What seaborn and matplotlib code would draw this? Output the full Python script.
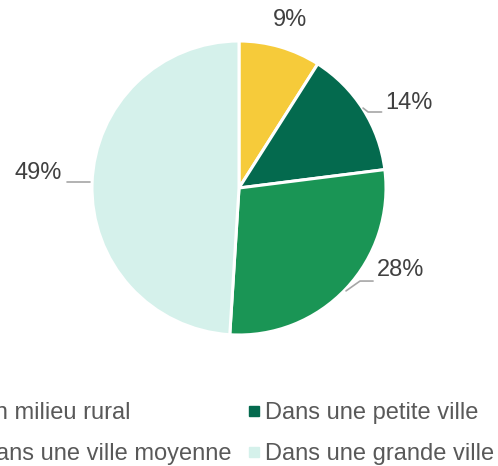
import matplotlib
matplotlib.use("Agg")
import matplotlib.pyplot as plt
import seaborn as sns
from matplotlib.lines import Line2D

sns.set_theme(style="white")
plt.rcParams['font.family'] = ['Liberation Sans', 'DejaVu Sans']

categories = ["En milieu rural", "Dans une petite ville",
              "Dans une ville moyenne", "Dans une grande ville"]
values = [9, 14, 28, 49]
labels = ["9%", "14%", "28%", "49%"]
colors = ["#F6CB3A", "#046A4E", "#1A9555", "#D5F1EB"]

W, H, DPI = 498, 466, 100
fig = plt.figure(figsize=(W / DPI, H / DPI), dpi=DPI)
ax = fig.add_axes([0, 0, 1, 1])

wedges, _ = ax.pie(values, colors=colors, startangle=90, counterclock=False,
                   radius=1, center=(0, 0),
                   wedgeprops=dict(edgecolor="white", linewidth=2.2))
ax.set_aspect("auto")
cx, cy, r = 239, 188, 147
ax.set_xlim(-cx / r, (W - cx) / r)
ax.set_ylim((cy - H) / r, cy / r)
ax.axis("off")

txt_col = "#404040"
line_col = "#A6A6A6"
fs = 17

# label placement (layout)
ax.text(0.347, 1.14, labels[0], ha="center", va="center", fontsize=fs, color=txt_col)

ax.plot([0.844, 0.878, 0.97], [0.544, 0.517, 0.517], color=line_col, lw=1.2)
ax.text(0.995, 0.578, labels[1], ha="left", va="center", fontsize=fs, color=txt_col)

ax.plot([0.728, 0.823, 0.912], [-0.70, -0.633, -0.633], color=line_col, lw=1.2)
ax.text(0.935, -0.558, labels[2], ha="left", va="center", fontsize=fs, color=txt_col)

ax.plot([-1.17, -1.014], [0.041, 0.041], color=line_col, lw=1.2)
ax.text(-1.204, 0.10, labels[3], ha="right", va="center", fontsize=fs, color=txt_col)

handles = [Line2D([0], [0], marker="s", linestyle="none", markersize=6.5,
                  markerfacecolor=c, markeredgecolor=c) for c in colors]
# legend is filled row-wise in the reference: reorder for column-major filling
order = [0, 2, 1, 3]
fig.legend([handles[i] for i in order], [categories[i] for i in order],
           loc="upper left", ncol=2,
           bbox_to_anchor=(-39 / W, 1 - 402 / H), frameon=False,
           fontsize=fs, labelcolor="#595959", handlelength=0.5,
           handletextpad=0.25, columnspacing=0.7, labelspacing=0.8,
           borderpad=0, borderaxespad=0)

fig.savefig("out.png", dpi=DPI)
